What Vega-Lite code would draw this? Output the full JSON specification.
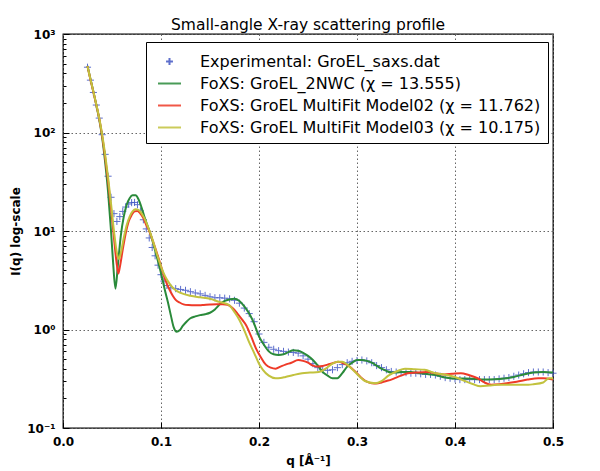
{
  "$schema": "https://vega.github.io/schema/vega-lite/v6.json",
  "autosize": "none",
  "width": 490,
  "height": 394,
  "padding": {"left": 63, "top": 34, "right": 47, "bottom": 43},
  "background": "white",
  "config": {
    "font": "DejaVu Sans",
    "view": {"stroke": "#000", "strokeWidth": 1.3},
    "axis": {"labelFont": "DejaVu Sans", "labelFontWeight": "bold", "labelFontSize": 12, "labelColor": "#000", "titleFont": "DejaVu Sans", "titleFontWeight": "bold", "titleFontSize": 12, "titleColor": "#000", "domain": false, "tickColor": "#000", "gridColor": "#666", "gridDash": [1.5, 2.5], "gridWidth": 1}
  },
  "title": {"text": "Small-angle X-ray scattering profile", "fontSize": 15.5, "fontWeight": "normal", "font": "DejaVu Sans", "frame": "group", "baseline": "alphabetic", "offset": 6, "dy": 23, "color": "#000"},
  "datasets": {
    "exp": [
      {"q":0.025,"I":460},{"q":0.028,"I":340},{"q":0.031,"I":255},{"q":0.034,"I":190},{"q":0.037,"I":140},{"q":0.040,"I":95},{"q":0.043,"I":60},{"q":0.046,"I":36},{"q":0.049,"I":22},{"q":0.052,"I":15},{"q":0.055,"I":12.5},{"q":0.058,"I":14},{"q":0.061,"I":15.8},{"q":0.064,"I":17.5},{"q":0.067,"I":18.8},{"q":0.070,"I":19.4},{"q":0.073,"I":19.5},{"q":0.076,"I":18.5},{"q":0.079,"I":16},{"q":0.082,"I":13},{"q":0.085,"I":10.5},{"q":0.088,"I":8.5},{"q":0.091,"I":6.8},{"q":0.094,"I":5.6},{"q":0.097,"I":4.5},{"q":0.100,"I":3.6},{"q":0.103,"I":3.1},{"q":0.106,"I":2.8},{"q":0.110,"I":2.65},{"q":0.115,"I":2.6},{"q":0.120,"I":2.55},{"q":0.125,"I":2.5},{"q":0.130,"I":2.42},{"q":0.135,"I":2.35},{"q":0.140,"I":2.3},{"q":0.145,"I":2.22},{"q":0.150,"I":2.15},{"q":0.155,"I":2.1},{"q":0.160,"I":2.1},{"q":0.165,"I":2.08},{"q":0.170,"I":2.05},{"q":0.175,"I":1.98},{"q":0.180,"I":1.85},{"q":0.185,"I":1.65},{"q":0.190,"I":1.45},{"q":0.195,"I":1.2},{"q":0.200,"I":0.9},{"q":0.205,"I":0.74},{"q":0.210,"I":0.66},{"q":0.215,"I":0.63},{"q":0.220,"I":0.61},{"q":0.225,"I":0.6},{"q":0.230,"I":0.59},{"q":0.235,"I":0.585},{"q":0.240,"I":0.575},{"q":0.245,"I":0.54},{"q":0.250,"I":0.5},{"q":0.255,"I":0.45},{"q":0.260,"I":0.41},{"q":0.265,"I":0.39},{"q":0.270,"I":0.385},{"q":0.275,"I":0.39},{"q":0.280,"I":0.41},{"q":0.285,"I":0.44},{"q":0.290,"I":0.46},{"q":0.295,"I":0.475},{"q":0.300,"I":0.485},{"q":0.305,"I":0.49},{"q":0.310,"I":0.48},{"q":0.315,"I":0.46},{"q":0.320,"I":0.43},{"q":0.325,"I":0.41},{"q":0.330,"I":0.39},{"q":0.335,"I":0.375},{"q":0.340,"I":0.37},{"q":0.345,"I":0.365},{"q":0.350,"I":0.365},{"q":0.355,"I":0.36},{"q":0.360,"I":0.36},{"q":0.365,"I":0.355},{"q":0.370,"I":0.35},{"q":0.375,"I":0.35},{"q":0.380,"I":0.345},{"q":0.385,"I":0.335},{"q":0.390,"I":0.325},{"q":0.395,"I":0.32},{"q":0.400,"I":0.315},{"q":0.405,"I":0.31},{"q":0.410,"I":0.31},{"q":0.415,"I":0.31},{"q":0.420,"I":0.31},{"q":0.425,"I":0.31},{"q":0.430,"I":0.31},{"q":0.435,"I":0.31},{"q":0.440,"I":0.31},{"q":0.445,"I":0.315},{"q":0.450,"I":0.32},{"q":0.455,"I":0.325},{"q":0.460,"I":0.335},{"q":0.465,"I":0.345},{"q":0.470,"I":0.355},{"q":0.475,"I":0.365},{"q":0.480,"I":0.37},{"q":0.485,"I":0.37},{"q":0.490,"I":0.37},{"q":0.495,"I":0.365},{"q":0.500,"I":0.36}
    ],
    "nwc": [
      {"q":0.025,"I":475},{"q":0.028,"I":350},{"q":0.031,"I":260},{"q":0.034,"I":190},{"q":0.037,"I":135},{"q":0.040,"I":88},{"q":0.043,"I":50},{"q":0.046,"I":25},{"q":0.049,"I":10},{"q":0.051,"I":5},{"q":0.0535,"I":2.6},{"q":0.056,"I":4.5},{"q":0.059,"I":9},{"q":0.062,"I":14},{"q":0.065,"I":18.5},{"q":0.068,"I":21.5},{"q":0.071,"I":23},{"q":0.074,"I":23},{"q":0.077,"I":21},{"q":0.080,"I":17.5},{"q":0.083,"I":14},{"q":0.086,"I":11.5},{"q":0.089,"I":9.5},{"q":0.092,"I":7.5},{"q":0.095,"I":5.8},{"q":0.098,"I":4.5},{"q":0.101,"I":3.4},{"q":0.104,"I":2.5},{"q":0.107,"I":1.9},{"q":0.110,"I":1.4},{"q":0.113,"I":1.05},{"q":0.116,"I":0.95},{"q":0.119,"I":0.98},{"q":0.122,"I":1.08},{"q":0.126,"I":1.2},{"q":0.130,"I":1.3},{"q":0.135,"I":1.36},{"q":0.140,"I":1.4},{"q":0.145,"I":1.43},{"q":0.150,"I":1.48},{"q":0.155,"I":1.6},{"q":0.160,"I":1.8},{"q":0.165,"I":1.95},{"q":0.170,"I":2.02},{"q":0.175,"I":2.05},{"q":0.180,"I":1.95},{"q":0.185,"I":1.72},{"q":0.190,"I":1.45},{"q":0.195,"I":1.15},{"q":0.200,"I":0.85},{"q":0.205,"I":0.7},{"q":0.210,"I":0.6},{"q":0.215,"I":0.56},{"q":0.220,"I":0.55},{"q":0.225,"I":0.56},{"q":0.230,"I":0.59},{"q":0.235,"I":0.615},{"q":0.240,"I":0.61},{"q":0.245,"I":0.58},{"q":0.250,"I":0.54},{"q":0.255,"I":0.49},{"q":0.260,"I":0.43},{"q":0.265,"I":0.37},{"q":0.270,"I":0.34},{"q":0.275,"I":0.32},{"q":0.280,"I":0.32},{"q":0.285,"I":0.36},{"q":0.290,"I":0.42},{"q":0.295,"I":0.46},{"q":0.300,"I":0.49},{"q":0.305,"I":0.49},{"q":0.310,"I":0.48},{"q":0.315,"I":0.46},{"q":0.320,"I":0.43},{"q":0.325,"I":0.4},{"q":0.330,"I":0.38},{"q":0.335,"I":0.365},{"q":0.340,"I":0.365},{"q":0.345,"I":0.37},{"q":0.350,"I":0.37},{"q":0.355,"I":0.37},{"q":0.360,"I":0.365},{"q":0.365,"I":0.36},{"q":0.370,"I":0.355},{"q":0.375,"I":0.35},{"q":0.380,"I":0.345},{"q":0.385,"I":0.335},{"q":0.390,"I":0.325},{"q":0.395,"I":0.32},{"q":0.400,"I":0.318},{"q":0.410,"I":0.318},{"q":0.420,"I":0.315},{"q":0.430,"I":0.31},{"q":0.440,"I":0.312},{"q":0.450,"I":0.318},{"q":0.460,"I":0.33},{"q":0.470,"I":0.35},{"q":0.480,"I":0.365},{"q":0.490,"I":0.37},{"q":0.500,"I":0.365}
    ],
    "m02": [
      {"q":0.025,"I":470},{"q":0.028,"I":345},{"q":0.031,"I":258},{"q":0.034,"I":190},{"q":0.037,"I":138},{"q":0.040,"I":92},{"q":0.043,"I":56},{"q":0.046,"I":32},{"q":0.049,"I":17},{"q":0.052,"I":8.5},{"q":0.055,"I":4.5},{"q":0.0565,"I":3.7},{"q":0.058,"I":4.3},{"q":0.061,"I":6.5},{"q":0.064,"I":9.5},{"q":0.067,"I":12.5},{"q":0.070,"I":14.5},{"q":0.073,"I":15.8},{"q":0.076,"I":16},{"q":0.079,"I":15},{"q":0.082,"I":13.5},{"q":0.085,"I":11.5},{"q":0.088,"I":10},{"q":0.091,"I":8.3},{"q":0.094,"I":6.8},{"q":0.097,"I":5.5},{"q":0.100,"I":4.4},{"q":0.103,"I":3.5},{"q":0.106,"I":2.9},{"q":0.109,"I":2.5},{"q":0.112,"I":2.2},{"q":0.115,"I":2.0},{"q":0.119,"I":1.88},{"q":0.123,"I":1.8},{"q":0.128,"I":1.77},{"q":0.135,"I":1.76},{"q":0.142,"I":1.77},{"q":0.150,"I":1.79},{"q":0.157,"I":1.8},{"q":0.163,"I":1.8},{"q":0.168,"I":1.78},{"q":0.173,"I":1.65},{"q":0.178,"I":1.45},{"q":0.183,"I":1.25},{"q":0.187,"I":1.1},{"q":0.192,"I":0.85},{"q":0.197,"I":0.64},{"q":0.202,"I":0.52},{"q":0.207,"I":0.44},{"q":0.212,"I":0.41},{"q":0.217,"I":0.4},{"q":0.222,"I":0.42},{"q":0.227,"I":0.44},{"q":0.233,"I":0.46},{"q":0.240,"I":0.49},{"q":0.245,"I":0.48},{"q":0.250,"I":0.46},{"q":0.255,"I":0.43},{"q":0.260,"I":0.42},{"q":0.265,"I":0.425},{"q":0.270,"I":0.44},{"q":0.275,"I":0.455},{"q":0.281,"I":0.47},{"q":0.287,"I":0.45},{"q":0.291,"I":0.43},{"q":0.295,"I":0.40},{"q":0.300,"I":0.36},{"q":0.305,"I":0.32},{"q":0.310,"I":0.295},{"q":0.315,"I":0.285},{"q":0.320,"I":0.283},{"q":0.325,"I":0.29},{"q":0.330,"I":0.3},{"q":0.335,"I":0.31},{"q":0.340,"I":0.325},{"q":0.345,"I":0.34},{"q":0.352,"I":0.36},{"q":0.360,"I":0.365},{"q":0.372,"I":0.37},{"q":0.380,"I":0.36},{"q":0.389,"I":0.35},{"q":0.397,"I":0.355},{"q":0.406,"I":0.36},{"q":0.414,"I":0.345},{"q":0.423,"I":0.32},{"q":0.430,"I":0.29},{"q":0.437,"I":0.275},{"q":0.445,"I":0.278},{"q":0.453,"I":0.285},{"q":0.463,"I":0.295},{"q":0.474,"I":0.31},{"q":0.485,"I":0.32},{"q":0.490,"I":0.32},{"q":0.500,"I":0.31}
    ],
    "m03": [
      {"q":0.025,"I":470},{"q":0.028,"I":348},{"q":0.031,"I":260},{"q":0.034,"I":192},{"q":0.037,"I":140},{"q":0.040,"I":95},{"q":0.043,"I":60},{"q":0.046,"I":35},{"q":0.049,"I":19},{"q":0.052,"I":10},{"q":0.055,"I":6},{"q":0.057,"I":5.2},{"q":0.059,"I":6},{"q":0.062,"I":8.5},{"q":0.065,"I":11.5},{"q":0.068,"I":14},{"q":0.071,"I":15.8},{"q":0.074,"I":16.6},{"q":0.077,"I":16.4},{"q":0.080,"I":15.2},{"q":0.083,"I":13.5},{"q":0.086,"I":11.5},{"q":0.089,"I":9.6},{"q":0.092,"I":7.8},{"q":0.095,"I":6.2},{"q":0.098,"I":5.0},{"q":0.101,"I":4.1},{"q":0.104,"I":3.5},{"q":0.107,"I":3.1},{"q":0.110,"I":2.8},{"q":0.115,"I":2.5},{"q":0.120,"I":2.35},{"q":0.130,"I":2.2},{"q":0.140,"I":2.12},{"q":0.150,"I":2.05},{"q":0.160,"I":1.9},{"q":0.165,"I":1.85},{"q":0.170,"I":1.75},{"q":0.175,"I":1.5},{"q":0.180,"I":1.25},{"q":0.185,"I":0.98},{"q":0.190,"I":0.74},{"q":0.195,"I":0.58},{"q":0.200,"I":0.45},{"q":0.204,"I":0.39},{"q":0.210,"I":0.34},{"q":0.217,"I":0.32},{"q":0.222,"I":0.322},{"q":0.227,"I":0.33},{"q":0.235,"I":0.345},{"q":0.244,"I":0.36},{"q":0.252,"I":0.365},{"q":0.261,"I":0.37},{"q":0.268,"I":0.40},{"q":0.275,"I":0.45},{"q":0.280,"I":0.47},{"q":0.285,"I":0.47},{"q":0.290,"I":0.44},{"q":0.298,"I":0.37},{"q":0.303,"I":0.33},{"q":0.308,"I":0.30},{"q":0.3185,"I":0.285},{"q":0.325,"I":0.30},{"q":0.332,"I":0.34},{"q":0.339,"I":0.37},{"q":0.349,"I":0.40},{"q":0.359,"I":0.395},{"q":0.369,"I":0.39},{"q":0.380,"I":0.36},{"q":0.389,"I":0.35},{"q":0.400,"I":0.33},{"q":0.410,"I":0.30},{"q":0.418,"I":0.28},{"q":0.426,"I":0.265},{"q":0.435,"I":0.27},{"q":0.443,"I":0.275},{"q":0.455,"I":0.275},{"q":0.464,"I":0.275},{"q":0.475,"I":0.275},{"q":0.480,"I":0.278},{"q":0.490,"I":0.29},{"q":0.496,"I":0.32},{"q":0.500,"I":0.32}
    ]
  },
  "encoding": {
    "x": {"field": "q", "type": "quantitative", "scale": {"domain": [0, 0.5], "nice": false, "zero": false},
      "axis": {"title": "q [Å⁻¹]", "values": [0, 0.1, 0.2, 0.3, 0.4, 0.5], "format": ".1f", "tickSize": -6, "labelPadding": 14, "titlePadding": 8, "labelFlush": false}},
    "y": {"field": "I", "type": "quantitative", "scale": {"type": "log", "domain": [0.1, 1000], "nice": false},
      "axis": {"title": "I(q) log-scale", "labelOverlap": false, "labelPadding": 14, "titlePadding": 4, "labelFlush": false,
        "values": [0.1,0.2,0.3,0.4,0.5,0.6,0.7,0.8,0.9,1,2,3,4,5,6,7,8,9,10,20,30,40,50,60,70,80,90,100,200,300,400,500,600,700,800,900,1000],
        "labelExpr": "datum.value == 1000 ? '10³' : datum.value == 100 ? '10²' : datum.value == 10 ? '10¹' : datum.value == 1 ? '10⁰' : datum.value == 0.1 ? '10⁻¹' : ''",
        "tickSize": {"condition": {"test": "indexof([0.1,1,10,100,1000], datum.value) >= 0", "value": -6}, "value": -3},
        "gridOpacity": {"condition": {"test": "indexof([0.1,1,10,100,1000], datum.value) >= 0", "value": 1}, "value": 0}}}
  },
  "layer": [
    {
      "data": {"name": "exp"},
      "mark": {"type": "point", "filled": false, "size": 560, "strokeWidth": 1, "opacity": 0.85},
      "encoding": {
        "color": {"datum": "Experimental: GroEL_saxs.dat", "type": "nominal",
          "scale": {"domain": ["Experimental: GroEL_saxs.dat", "FoXS: GroEL_2NWC (χ = 13.555)", "FoXS: GroEL MultiFit Model02 (χ = 11.762)", "FoXS: GroEL MultiFit Model03 (χ = 10.175)"], "range": ["#4257c4", "#2a8a3a", "#ee3a28", "#c2c23e"]},
          "legend": {"title": null, "orient": "none", "legendX": 83, "legendY": 8, "strokeColor": "#000", "fillColor": "#fff", "padding": 7, "symbolOffset": 4, "labelFontSize": 16, "labelFont": "DejaVu Sans", "labelColor": "#000", "labelLimit": 500, "symbolSize": 529, "symbolStrokeWidth": 2, "rowPadding": 1, "labelOffset": 18, "cornerRadius": 0}},
        "shape": {"datum": "Experimental: GroEL_saxs.dat", "type": "nominal",
          "scale": {"domain": ["Experimental: GroEL_saxs.dat", "FoXS: GroEL_2NWC (χ = 13.555)", "FoXS: GroEL MultiFit Model02 (χ = 11.762)", "FoXS: GroEL MultiFit Model03 (χ = 10.175)"], "range": ["M-0.3,0H0.3M0,-0.3V0.3", "stroke", "stroke", "stroke"]},
          "legend": {"title": null, "orient": "none", "legendX": 83, "legendY": 8, "strokeColor": "#000", "fillColor": "#fff", "padding": 7, "symbolOffset": 4, "labelFontSize": 16, "labelFont": "DejaVu Sans", "labelColor": "#000", "labelLimit": 500, "symbolSize": 529, "symbolStrokeWidth": 2, "rowPadding": 1, "labelOffset": 18, "cornerRadius": 0}}
      }
    },
    {
      "data": {"name": "nwc"},
      "mark": {"type": "line", "strokeWidth": 2, "interpolate": "monotone"},
      "encoding": {"color": {"datum": "FoXS: GroEL_2NWC (χ = 13.555)", "type": "nominal"}}
    },
    {
      "data": {"name": "m02"},
      "mark": {"type": "line", "strokeWidth": 2, "interpolate": "monotone"},
      "encoding": {"color": {"datum": "FoXS: GroEL MultiFit Model02 (χ = 11.762)", "type": "nominal"}}
    },
    {
      "data": {"name": "m03"},
      "mark": {"type": "line", "strokeWidth": 2, "interpolate": "monotone"},
      "encoding": {"color": {"datum": "FoXS: GroEL MultiFit Model03 (χ = 10.175)", "type": "nominal"}}
    }
  ]
}
